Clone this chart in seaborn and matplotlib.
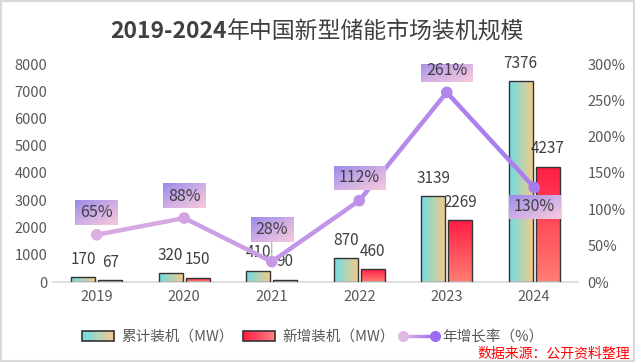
import numpy as np
import pandas as pd
import matplotlib
matplotlib.use('Agg')
import matplotlib.pyplot as plt
import matplotlib.colors as mcolors
from matplotlib.patches import Rectangle
from matplotlib.lines import Line2D
from matplotlib.legend_handler import HandlerBase
import seaborn as sns

# ---------------- data ----------------
years = ['2019', '2020', '2021', '2022', '2023', '2024']
cumulative = [170, 320, 410, 870, 3139, 7376]
new_added = [67, 150, 90, 460, 2269, 4237]
growth = [65, 88, 28, 112, 261, 130]
series_names = ['累计装机（MW）', '新增装机（MW）']
rate_name = '年增长率（%）'
title_part1 = '2019-2024'
title_part2 = '年中国新型储能市场装机规模'
source = '数据来源：公开资料整理'
left_ticks = [0, 1000, 2000, 3000, 4000, 5000, 6000, 7000, 8000]
right_ticks = [0, 50, 100, 150, 200, 250, 300]

# ---------------- style ----------------
rate_label_offsets = [22, 22, 32, 23, 22, -19]   # pixels above/below points
cum_c1, cum_c2 = '#6edde6', '#f2cb8a'
new_top, new_bot = '#ff1d45', '#ff7d72'
line_c1, line_c2 = '#dcaee0', '#a67bf0'
box_c1, box_c2 = '#9a8aea', '#f7c9da'
txt_col = '#404040'
tick_col = '#595959'

sns.set_theme(style='white')
plt.rcParams['font.family'] = ['Noto Sans CJK SC', 'DejaVu Sans']

W, H = 635, 362
fig = plt.figure(figsize=(W / 100, H / 100), dpi=100)
ax = fig.add_axes([53 / W, 1 - 282 / H, 525 / W, 218 / H])

df = pd.DataFrame({
    'year': years * 2,
    'value': cumulative + new_added,
    'series': [series_names[0]] * len(years) + [series_names[1]] * len(years),
})
sns.barplot(data=df, x='year', y='value', hue='series', hue_order=series_names,
            width=0.62, gap=0.12, palette=[cum_c2, new_top], legend=False,
            errorbar=None, ax=ax)

cmap_cum = mcolors.LinearSegmentedColormap.from_list('cum', [cum_c1, cum_c2])
cmap_new = mcolors.LinearSegmentedColormap.from_list('new', [new_bot, new_top])
hgrad = np.linspace(0, 1, 128).reshape(1, -1)
vgrad = np.linspace(0, 1, 128).reshape(-1, 1)

for k, cont in enumerate(ax.containers[:2]):
    for bar in cont:
        x0, y0 = bar.get_x(), bar.get_y()
        w, h = bar.get_width(), bar.get_height()
        if k == 0:
            im = ax.imshow(hgrad, cmap=cmap_cum, extent=[x0, x0 + w, y0, y0 + h],
                           aspect='auto', origin='lower', zorder=2, interpolation='bilinear')
        else:
            im = ax.imshow(vgrad, cmap=cmap_new, extent=[x0, x0 + w, y0, y0 + h],
                           aspect='auto', origin='lower', zorder=2, interpolation='bilinear')
        im.set_clip_path(bar)
        bar.set_facecolor('none')
        bar.set_edgecolor('#333333')
        bar.set_linewidth(1.0)
        bar.set_zorder(3)
        ax.annotate(f'{int(round(h))}', xy=(x0 + w / 2, h), xytext=(0, 18),
                    textcoords='offset pixels', ha='center', va='center',
                    fontsize=11, color=txt_col, zorder=4)

ax.set_xlim(-0.5, len(years) - 0.5)
ax.set_ylim(0, 8000)
ax.set_yticks(left_ticks)
ax.set_yticklabels([str(v) for v in left_ticks])
ax.set_xticks(range(len(years)))
ax.set_xticklabels(years)
ax.set_xlabel('')
ax.set_ylabel('')
ax.tick_params(axis='both', length=0, labelsize=10.5, colors=tick_col)
ax.tick_params(axis='y', pad=4)
ax.tick_params(axis='x', pad=6)
for s in ['top', 'left', 'right']:
    ax.spines[s].set_visible(False)
ax.spines['bottom'].set_color('#d9d9d9')
ax.spines['bottom'].set_linewidth(1.2)
ax.grid(False)

# ---------------- growth line ----------------
ax2 = ax.twinx()
xs = np.arange(len(years))
c1 = np.array(mcolors.to_rgb(line_c1))
c2 = np.array(mcolors.to_rgb(line_c2))
n = len(xs)
for i in range(n - 1):
    t = (i + 0.5) / (n - 1)
    ax2.plot(xs[i:i + 2], growth[i:i + 2], color=c1 + (c2 - c1) * t, lw=3.2,
             solid_capstyle='round', zorder=3)
pt_cols = [tuple(c1 + (c2 - c1) * (i / (n - 1))) for i in range(n)]
sns.scatterplot(x=xs, y=growth, hue=years, palette=pt_cols, s=70, edgecolor='none',
                legend=False, ax=ax2, zorder=4)
# leader line for 2021
ax2.annotate('', xy=(xs[2], growth[2]), xytext=(0, rate_label_offsets[2] - 12),
             textcoords='offset pixels',
             arrowprops=dict(arrowstyle='-', color='#a6a6a6', lw=0.8, shrinkA=0, shrinkB=0),
             zorder=3.5)

ax2.set_ylim(0, 300)
ax2.set_yticks(right_ticks)
ax2.set_yticklabels([f'{v}%' for v in right_ticks])
ax2.tick_params(axis='y', length=0, labelsize=10.5, colors=tick_col, pad=7)
ax2.set_ylabel('')
for s in ax2.spines.values():
    s.set_visible(False)
ax2.grid(False)
ax.set_xlim(-0.5, len(years) - 0.5)

rate_texts = []
for i, (x, r) in enumerate(zip(xs, growth)):
    t = ax2.annotate(f'{r}%', xy=(x, r), xytext=(0, rate_label_offsets[i]),
                     textcoords='offset pixels', ha='center', va='center',
                     fontsize=11.5, color=txt_col, zorder=6)
    rate_texts.append(t)

ax.set_autoscale_on(False)
ax2.set_autoscale_on(False)

# ---------------- legend ----------------
class GradRectHandler(HandlerBase):
    def __init__(self, ca, cb, n=24):
        super().__init__()
        self.ca = np.array(mcolors.to_rgb(ca))
        self.cb = np.array(mcolors.to_rgb(cb))
        self.n = n

    def create_artists(self, legend, orig_handle, xdescent, ydescent, width, height, fontsize, trans):
        arts = []
        sw = width / self.n
        for j in range(self.n):
            c = self.ca + (self.cb - self.ca) * (j / (self.n - 1))
            r = Rectangle((-xdescent + j * sw, -ydescent), sw * 1.05, height,
                          facecolor=c, edgecolor='none', transform=trans)
            arts.append(r)
        arts.append(Rectangle((-xdescent, -ydescent), width, height, facecolor='none',
                              edgecolor='#333333', lw=1.2, transform=trans))
        return arts


class GradLineHandler(HandlerBase):
    def __init__(self, ca, cb, n=12):
        super().__init__()
        self.ca = np.array(mcolors.to_rgb(ca))
        self.cb = np.array(mcolors.to_rgb(cb))
        self.n = n

    def create_artists(self, legend, orig_handle, xdescent, ydescent, width, height, fontsize, trans):
        arts = []
        y = -ydescent + height / 2
        sw = width / self.n
        for j in range(self.n):
            c = self.ca + (self.cb - self.ca) * (j / (self.n - 1))
            arts.append(Line2D([-xdescent + j * sw, -xdescent + (j + 1) * sw], [y, y],
                               color=c, lw=2.4, transform=trans))
        arts.append(Line2D([-xdescent], [y], marker='o', markersize=8, color=tuple(self.ca),
                           markeredgecolor='none', transform=trans))
        arts.append(Line2D([-xdescent + width], [y], marker='o', markersize=8, color=tuple(self.cb),
                           markeredgecolor='none', transform=trans))
        return arts


h_cum = Rectangle((0, 0), 1, 1)
h_new = Rectangle((0, 0), 1, 1)
h_line = Line2D([0], [0])
leg = fig.legend([h_cum, h_new, h_line], [series_names[0], series_names[1], rate_name],
                 handler_map={h_cum: GradRectHandler(cum_c1, cum_c2),
                              h_new: GradRectHandler(new_top, '#ff8080'),
                              h_line: GradLineHandler('#e0b8e2', '#9c6cf0')},
                 loc='center', bbox_to_anchor=(313 / W, 1 - 337 / H), ncol=3, frameon=False,
                 fontsize=10.5, handlelength=2.2, handletextpad=0.5, columnspacing=0.6,
                 borderaxespad=0)
for t in leg.get_texts():
    t.set_color(tick_col)

# ---------------- title / source / border ----------------
t1 = fig.text(0, 1 - 32 / H, title_part1, ha='left', va='center', fontsize=16.5,
              fontweight='bold', color=txt_col)
t2 = fig.text(0, 1 - 32 / H, title_part2, ha='left', va='center', fontsize=16.5,
              fontweight='normal', color=txt_col)
fig.text(630 / W, 1 - 354 / H, source, ha='right', va='center', fontsize=10, color='#ff0000')
fig.patches.append(Rectangle((0, 0), 1, 1, transform=fig.transFigure, fill=False,
                             edgecolor='#d9d9d9', lw=3))

# ---------------- layout-dependent pieces ----------------
fig.canvas.draw()
renderer = fig.canvas.get_renderer()

# centre the two-weight title
w1 = t1.get_window_extent(renderer).width
w2 = t2.get_window_extent(renderer).width
start = (W - (w1 + w2)) / 2
t1.set_x(start / W)
t2.set_x((start + w1) / W)

# gradient boxes behind growth labels
inv = ax2.transData.inverted()
cmap_box = mcolors.LinearSegmentedColormap.from_list('box', [box_c1, '#cfaee6', box_c2])
gx, gy = np.meshgrid(np.linspace(0, 1, 64), np.linspace(0, 1, 32))
box_grad = (gx + gy) / 2
for t in rate_texts:
    bb = t.get_window_extent(renderer)
    cx, cy = (bb.x0 + bb.x1) / 2, (bb.y0 + bb.y1) / 2
    bw, bh = bb.width + 10, 24
    (x0, y0) = inv.transform((cx - bw / 2, cy - bh / 2))
    (x1, y1) = inv.transform((cx + bw / 2, cy + bh / 2))
    ax2.imshow(box_grad, cmap=cmap_box, extent=[x0, x1, y0, y1], aspect='auto',
               origin='upper', zorder=5, interpolation='bilinear')

ax.set_xlim(-0.5, len(years) - 0.5)
ax.set_ylim(0, 8000)
ax2.set_ylim(0, 300)

fig.savefig('out.png', dpi=100)
